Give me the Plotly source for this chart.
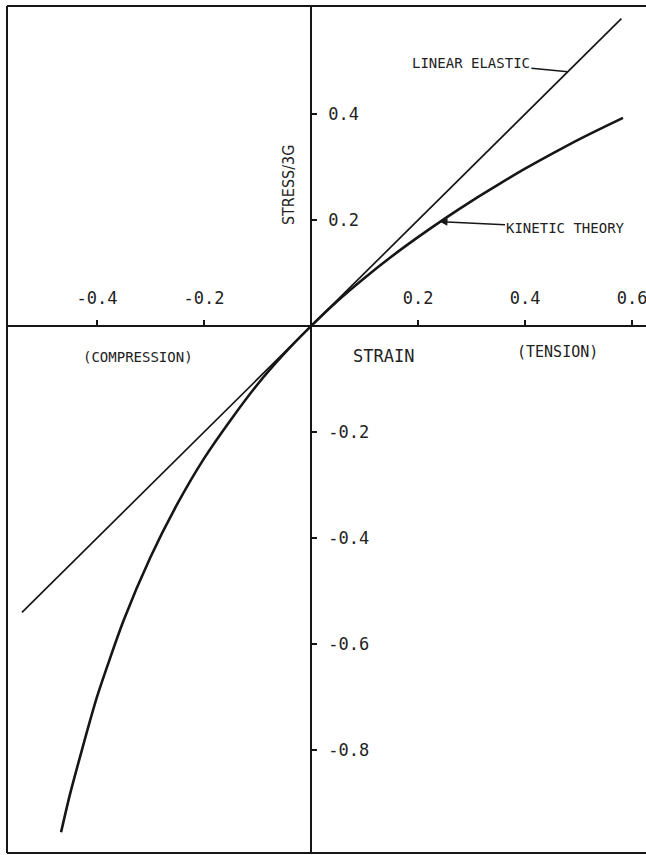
import plotly.graph_objects as go

# Stress-strain curves for a rubber-like solid
strain_linear = [-0.54, 0.0, 0.58]
stress_linear = [-0.54, 0.0, 0.58]

strain_kinetic = [-0.467, -0.45, -0.40, -0.35, -0.30, -0.25, -0.20, -0.15, -0.10, -0.05,
                  0.0, 0.05, 0.10, 0.15, 0.20, 0.25, 0.30, 0.35, 0.40, 0.45, 0.50, 0.55, 0.583]
stress_kinetic = [-0.955, -0.882, -0.700, -0.555, -0.436, -0.336, -0.250, -0.177, -0.110, -0.052,
                  0.0, 0.048, 0.091, 0.131, 0.168, 0.203, 0.236, 0.267, 0.297, 0.325, 0.352, 0.377, 0.393]

x_ticks = [-0.4, -0.2, 0.2, 0.4, 0.6]
x_tick_text = ["-0.4", "-0.2", "0.2", "0.4", "0.6"]
y_ticks = [0.4, 0.2, -0.2, -0.4, -0.6, -0.8]
y_tick_text = ["0.4", "0.2", "-0.2", "-0.4", "-0.6", "-0.8"]

X_RANGE = [-0.568, 0.626]
Y_RANGE = [-0.994, 0.604]

MONO = "DejaVu Sans Mono, Liberation Mono, monospace"
NARROW = "Liberation Sans Narrow, DejaVu Sans Condensed, sans-serif"
INK = "#161616"

fig = go.Figure()

fig.add_trace(go.Scatter(
    x=strain_linear, y=stress_linear, mode="lines",
    line=dict(color=INK, width=1.7), name="Linear elastic", hoverinfo="skip",
))
fig.add_trace(go.Scatter(
    x=strain_kinetic, y=stress_kinetic, mode="lines",
    line=dict(color=INK, width=2.6, shape="spline", smoothing=0.6),
    name="Kinetic theory", hoverinfo="skip",
))

# axes cross at the origin
x_pos = (0 - Y_RANGE[0]) / (Y_RANGE[1] - Y_RANGE[0])
y_pos = (0 - X_RANGE[0]) / (X_RANGE[1] - X_RANGE[0])

fig.update_xaxes(
    range=X_RANGE, anchor="free", position=x_pos, side="top",
    showline=True, linecolor=INK, linewidth=1.6,
    ticks="outside", ticklen=5, tickwidth=1.5, tickcolor=INK,
    tickvals=x_ticks, ticktext=x_tick_text, ticklabelstandoff=10,
    ticklabeloverflow="allow",
    tickfont=dict(family=MONO, size=17, color="#222"),
    showgrid=False, zeroline=False, fixedrange=True,
)
fig.update_yaxes(
    range=Y_RANGE, anchor="free", position=y_pos, side="right",
    showline=True, linecolor=INK, linewidth=1.6,
    ticks="outside", ticklen=5, tickwidth=1.5, tickcolor=INK,
    tickvals=y_ticks, ticktext=y_tick_text, ticklabelstandoff=8,
    tickfont=dict(family=MONO, size=17, color="#222"),
    showgrid=False, zeroline=False, fixedrange=True,
)

# frame on top, left and bottom
for x0, y0, x1, y1 in [(0, 1, 1, 1), (0, 0, 0, 1), (0, 0, 1, 0)]:
    fig.add_shape(type="line", xref="paper", yref="paper", x0=x0, y0=y0, x1=x1, y1=y1,
                  line=dict(color=INK, width=2))

fig.add_annotation(x=-0.043, y=0.266, text="STRESS/3G", textangle=-90, showarrow=False,
                   font=dict(family=NARROW, size=16, color="#222"))
fig.add_annotation(x=0.135, y=-0.057, text="STRAIN", showarrow=False,
                   font=dict(family=MONO, size=17, color="#222"))
fig.add_annotation(x=0.460, y=-0.049, text="(TENSION)", showarrow=False,
                   font=dict(family=MONO, size=15, color="#222"))
fig.add_annotation(x=-0.323, y=-0.058, text="(COMPRESSION)", showarrow=False,
                   font=dict(family=MONO, size=14, color="#222"))
fig.add_annotation(x=0.48, y=0.48, ax=-97, ay=-9, text="LINEAR ELASTIC", showarrow=True,
                   arrowhead=0, arrowwidth=1.5, arrowcolor=INK,
                   font=dict(family=MONO, size=14, color="#222"))
fig.add_annotation(x=0.241, y=0.197, ax=126, ay=6, text="KINETIC THEORY", showarrow=True,
                   arrowhead=2, arrowsize=1, arrowwidth=1.5, arrowcolor=INK,
                   font=dict(family=MONO, size=14, color="#222"))

fig.update_layout(
    width=646, height=855,
    margin=dict(l=7, r=0, t=6, b=2),
    paper_bgcolor="white", plot_bgcolor="white",
    showlegend=False,
)

fig.write_html("out.html", config={"displayModeBar": False})
